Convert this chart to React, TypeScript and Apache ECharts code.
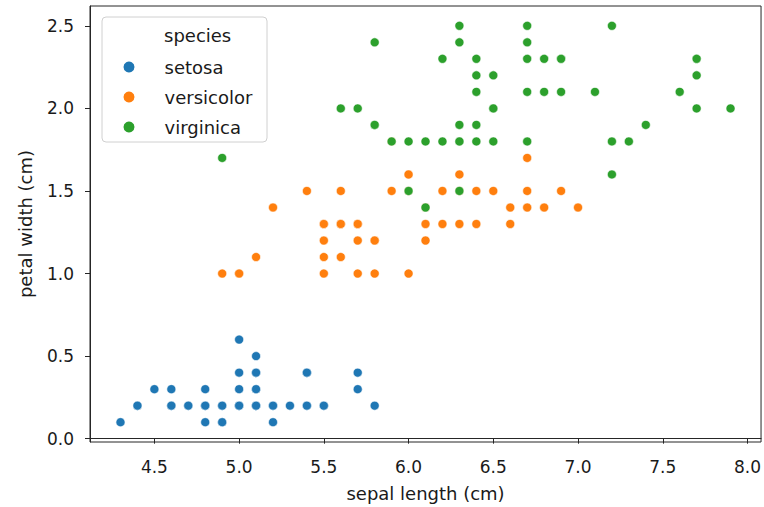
import React, { useEffect, useRef } from "react";
import * as echarts from "echarts";

const speciesNames = ["setosa", "versicolor", "virginica"];
const speciesColors = ["#1f77b4", "#ff7f0e", "#2ca02c"];

const setosaSepalLength = [5.1, 4.9, 4.7, 4.6, 5.0, 5.4, 4.6, 5.0, 4.4, 4.9, 5.4, 4.8, 4.8, 4.3, 5.8, 5.7, 5.4, 5.1, 5.7, 5.1, 5.4, 5.1, 4.6, 5.1, 4.8, 5.0, 5.0, 5.2, 5.2, 4.7, 4.8, 5.4, 5.2, 5.5, 4.9, 5.0, 5.5, 4.9, 4.4, 5.1, 5.0, 4.5, 4.4, 5.0, 5.1, 4.8, 5.1, 4.6, 5.3, 5.0];
const setosaPetalWidth = [0.2, 0.2, 0.2, 0.2, 0.2, 0.4, 0.3, 0.2, 0.2, 0.1, 0.2, 0.2, 0.1, 0.1, 0.2, 0.4, 0.4, 0.3, 0.3, 0.3, 0.2, 0.4, 0.2, 0.5, 0.2, 0.2, 0.4, 0.2, 0.2, 0.2, 0.2, 0.4, 0.1, 0.2, 0.2, 0.2, 0.2, 0.1, 0.2, 0.2, 0.3, 0.3, 0.2, 0.6, 0.4, 0.3, 0.2, 0.2, 0.2, 0.2];

const versicolorSepalLength = [7.0, 6.4, 6.9, 5.5, 6.5, 5.7, 6.3, 4.9, 6.6, 5.2, 5.0, 5.9, 6.0, 6.1, 5.6, 6.7, 5.6, 5.8, 6.2, 5.6, 5.9, 6.1, 6.3, 6.1, 6.4, 6.6, 6.8, 6.7, 6.0, 5.7, 5.5, 5.5, 5.8, 6.0, 5.4, 6.0, 6.7, 6.3, 5.6, 5.5, 5.5, 6.1, 5.8, 5.0, 5.6, 5.7, 5.7, 6.2, 5.1, 5.7];
const versicolorPetalWidth = [1.4, 1.5, 1.5, 1.3, 1.5, 1.3, 1.6, 1.0, 1.3, 1.4, 1.0, 1.5, 1.0, 1.4, 1.3, 1.4, 1.5, 1.0, 1.5, 1.1, 1.8, 1.3, 1.5, 1.2, 1.3, 1.4, 1.4, 1.7, 1.5, 1.0, 1.1, 1.0, 1.2, 1.6, 1.5, 1.6, 1.5, 1.3, 1.3, 1.3, 1.2, 1.4, 1.2, 1.0, 1.3, 1.2, 1.3, 1.3, 1.1, 1.3];

const virginicaSepalLength = [6.3, 5.8, 7.1, 6.3, 6.5, 7.6, 4.9, 7.3, 6.7, 7.2, 6.5, 6.4, 6.8, 5.7, 5.8, 6.4, 6.5, 7.7, 7.7, 6.0, 6.9, 5.6, 7.7, 6.3, 6.7, 7.2, 6.2, 6.1, 6.4, 7.2, 7.4, 7.9, 6.4, 6.3, 6.1, 7.7, 6.3, 6.4, 6.0, 6.9, 6.7, 6.9, 5.8, 6.8, 6.7, 6.7, 6.3, 6.5, 6.2, 5.9];
const virginicaPetalWidth = [2.5, 1.9, 2.1, 1.8, 2.2, 2.1, 1.7, 1.8, 1.8, 2.5, 2.0, 1.9, 2.1, 2.0, 2.4, 2.3, 1.8, 2.2, 2.3, 1.5, 2.3, 2.0, 2.0, 1.8, 2.1, 1.8, 1.8, 1.8, 2.1, 1.6, 1.9, 2.0, 2.2, 1.5, 1.4, 2.3, 2.4, 1.8, 1.8, 2.1, 2.4, 2.3, 1.9, 2.3, 2.5, 2.3, 1.9, 2.0, 2.3, 1.8];

const xTicks = [4.5, 5.0, 5.5, 6.0, 6.5, 7.0, 7.5, 8.0];
const yTicks = [0.0, 0.5, 1.0, 1.5, 2.0, 2.5];

const xLabel = "sepal length (cm)";
const yLabel = "petal width (cm)";
const legendTitle = "species";

const FONT = "DejaVu Sans";
const TEXT = "#1a1a1a";
const AXIS = "#262626";

function pairs(xs: number[], ys: number[]) {
  return xs.map((x, i) => [x, ys[i]]);
}

export default function App() {
  const ref = useRef<HTMLDivElement>(null);
  useEffect(() => {
    document.body.style.margin = "0";
    if (!ref.current) return;
    const chart = echarts.init(ref.current, undefined, { renderer: "svg" });
    const seriesData = [
      pairs(setosaSepalLength, setosaPetalWidth),
      pairs(versicolorSepalLength, versicolorPetalWidth),
      pairs(virginicaSepalLength, virginicaPetalWidth),
    ];
    chart.setOption({
      animation: false,
      backgroundColor: "#ffffff",
      grid: {
        left: 90,
        right: 2,
        top: 6,
        bottom: 65,
        show: true,
        borderColor: AXIS,
        borderWidth: 1,
        backgroundColor: "transparent",
      },
      xAxis: {
        type: "value",
        min: 4.12,
        max: 8.08,
        name: xLabel,
        nameLocation: "middle",
        nameGap: 42,
        nameTextStyle: { fontFamily: FONT, fontSize: 18, color: TEXT },
        axisLine: { show: true, lineStyle: { color: AXIS, width: 1 } },
        axisTick: { show: true, customValues: xTicks, length: 5, lineStyle: { color: AXIS } },
        axisLabel: {
          customValues: xTicks,
          formatter: (v: number) => v.toFixed(1),
          fontFamily: FONT,
          fontSize: 17,
          color: TEXT,
          margin: 16,
        },
        splitLine: { show: false },
      },
      yAxis: {
        type: "value",
        min: -0.02,
        max: 2.62,
        name: yLabel,
        nameLocation: "middle",
        nameGap: 56,
        nameRotate: 90,
        nameTextStyle: { fontFamily: FONT, fontSize: 18, color: TEXT },
        axisLine: { show: true, lineStyle: { color: AXIS, width: 1 } },
        axisTick: { show: true, customValues: yTicks, length: 5, lineStyle: { color: AXIS } },
        axisLabel: {
          customValues: yTicks,
          formatter: (v: number) => v.toFixed(1),
          fontFamily: FONT,
          fontSize: 17,
          color: TEXT,
          margin: 16,
        },
        splitLine: { show: false },
      },
      legend: {
        data: speciesNames,
        orient: "vertical",
        left: 121.5,
        top: 58,
        padding: 0,
        itemWidth: 13,
        itemHeight: 13,
        itemGap: 12,
        icon: "circle",
        textStyle: { fontFamily: FONT, fontSize: 18, color: TEXT, lineHeight: 18, padding: [0, 0, 0, 24] },
        z: 10,
      },
      graphic: [
        {
          type: "rect",
          z: 5,
          shape: { x: 102, y: 17, width: 165, height: 125, r: 4 },
          style: { fill: "rgba(255,255,255,0.8)", stroke: "#d0d0d0", lineWidth: 1 },
        },
        {
          type: "text",
          z: 11,
          x: 164,
          y: 35,
          style: {
            text: legendTitle,
            fontFamily: FONT,
            fontSize: 18,
            fill: TEXT,
            verticalAlign: "middle",
            align: "left",
          },
        },
      ],
      series: speciesNames.map((name, i) => ({
        name,
        type: "scatter",
        data: seriesData[i],
        symbol: "circle",
        symbolSize: 9,
        itemStyle: { color: speciesColors[i], borderColor: "#ffffff", borderWidth: 0.6, opacity: 1 },
        emphasis: { disabled: true },
        z: 2 + i,
      })),
    });
    return () => chart.dispose();
  }, []);
  return <div ref={ref} style={{ width: 764, height: 507 }} />;
}
